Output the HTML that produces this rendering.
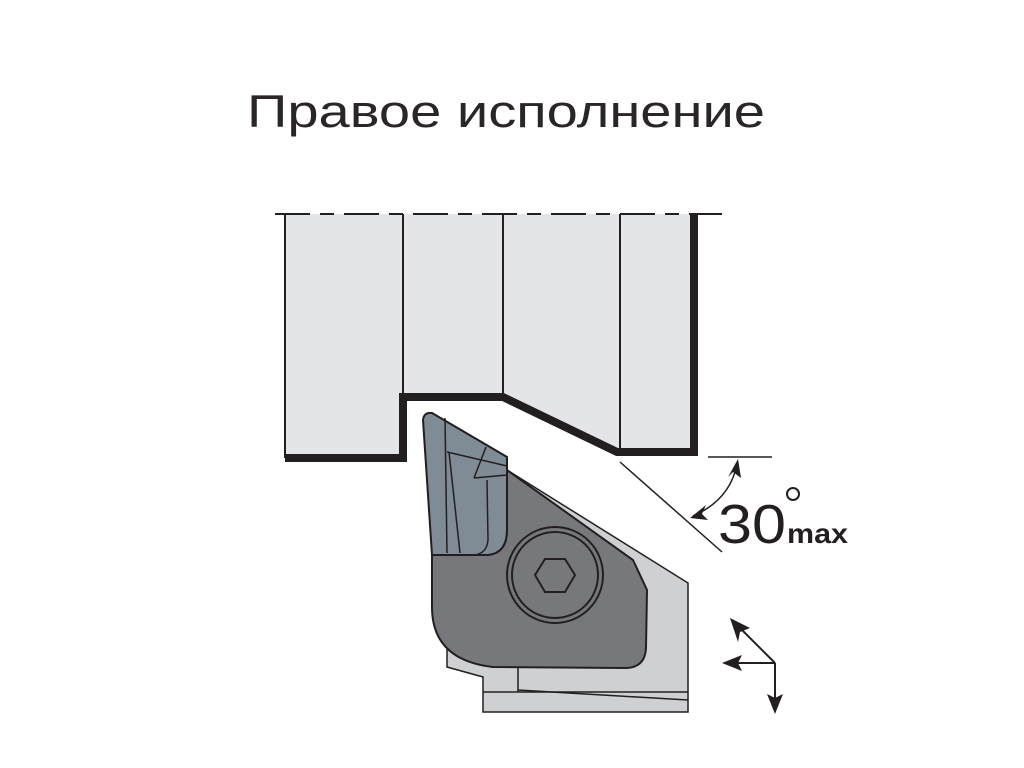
<!DOCTYPE html>
<html><head><meta charset="utf-8"><style>html,body{margin:0;padding:0;background:#fff}svg{display:block}</style></head>
<body>
<svg width="1024" height="768" viewBox="0 0 1024 768" xmlns="http://www.w3.org/2000/svg">
<text x="506" y="127" text-anchor="middle" font-family="Liberation Sans, sans-serif" font-size="45" fill="#2a2627" textLength="518" lengthAdjust="spacingAndGlyphs">Правое исполнение</text>
<!-- workpiece -->
<path d="M285,214 L697,214 L697,456 L617,452 L503,397 L403,397 L403,458 L285,458 Z" fill="#e4e5e7"/>
<g stroke="#231f20" stroke-width="2" fill="none">
<line x1="285" y1="214" x2="285" y2="458"/>
<line x1="403" y1="214" x2="403" y2="397"/>
<line x1="503" y1="214" x2="503" y2="397"/>
<line x1="620" y1="214" x2="620" y2="452"/>
</g>
<path d="M285,458 L403,458 L403,397 L503,397 L617,452 L694,452 L694,214" fill="none" stroke="#231f20" stroke-width="8"/>
<line x1="275" y1="214" x2="722" y2="214" stroke="#231f20" stroke-width="2" stroke-dasharray="35,10,14,10"/>
<!-- holder -->
<path d="M507,470 L688,583 L688,712 L483,712 L483,677 L447,667 L447,640 Z" fill="#cfd0d2" stroke="#231f20" stroke-width="1.5"/>
<g stroke="#231f20" stroke-width="1.5">
<line x1="483" y1="692" x2="688" y2="692"/>
<line x1="518" y1="690" x2="688" y2="700"/>
<line x1="518" y1="668" x2="518" y2="692"/>
</g>
<!-- clamp -->
<path d="M432,555 L488,555 Q507,553 507,530 L507,470 L633,560 L647,590 L646,648 Q645,668 625,668 L493,667 Q432,660 432,607 Z" fill="#77787b" stroke="#231f20" stroke-width="2"/>
<circle cx="555" cy="575" r="48" fill="none" stroke="#231f20" stroke-width="2"/>
<circle cx="555" cy="575" r="43" fill="none" stroke="#231f20" stroke-width="2"/>
<polygon points="545,559 565,559 575,575 565,592 545,592 535,575" fill="none" stroke="#231f20" stroke-width="2"/>
<!-- insert -->
<path d="M423,420 Q424,412 432,413 L507,457 L507,530 Q507,553 488,555 L432,555 Z" fill="#7f8c96" stroke="#231f20" stroke-width="2"/>
<g stroke="#231f20" stroke-width="1.5" fill="none">
<line x1="445" y1="418" x2="447" y2="553"/>
<line x1="447" y1="452" x2="507" y2="466"/>
<line x1="486" y1="447" x2="474" y2="478"/>
<line x1="474" y1="478" x2="507" y2="475"/>
<line x1="449" y1="452" x2="460" y2="553"/>
<path d="M487,480 L488,540 Q487,553 475,555"/>
</g>
<!-- angle -->
<g stroke="#231f20" stroke-width="1.5" fill="none">
<line x1="620" y1="462" x2="722" y2="552"/>
<line x1="708" y1="457" x2="772" y2="457"/>
<path d="M737,464 Q730,500 693,516"/>
</g>
<polygon points="738,459 741,478 733,472 728,477" fill="#231f20"/>
<polygon points="690,518 706,505 702,514 708,520" fill="#231f20"/>
<text x="718" y="543" font-family="Liberation Sans, sans-serif" font-size="55" fill="#231f20" textLength="68" lengthAdjust="spacingAndGlyphs">30</text>
<circle cx="793" cy="494" r="6" fill="none" stroke="#231f20" stroke-width="2"/>
<text x="787" y="543" font-family="Liberation Sans, sans-serif" font-size="28" font-weight="bold" fill="#231f20" textLength="61" lengthAdjust="spacingAndGlyphs">max</text>
<!-- direction arrows -->
<g stroke="#231f20" stroke-width="2" fill="none">
<line x1="775" y1="663" x2="735" y2="623"/>
<line x1="775" y1="663" x2="728" y2="663"/>
<line x1="775" y1="663" x2="775" y2="708"/>
</g>
<polygon points="730,618 750,628 740,632 738,642" fill="#231f20"/>
<polygon points="722,663 742,655 738,663 742,671" fill="#231f20"/>
<polygon points="775,714 767,694 775,698 783,694" fill="#231f20"/>
</svg>
</body></html>
